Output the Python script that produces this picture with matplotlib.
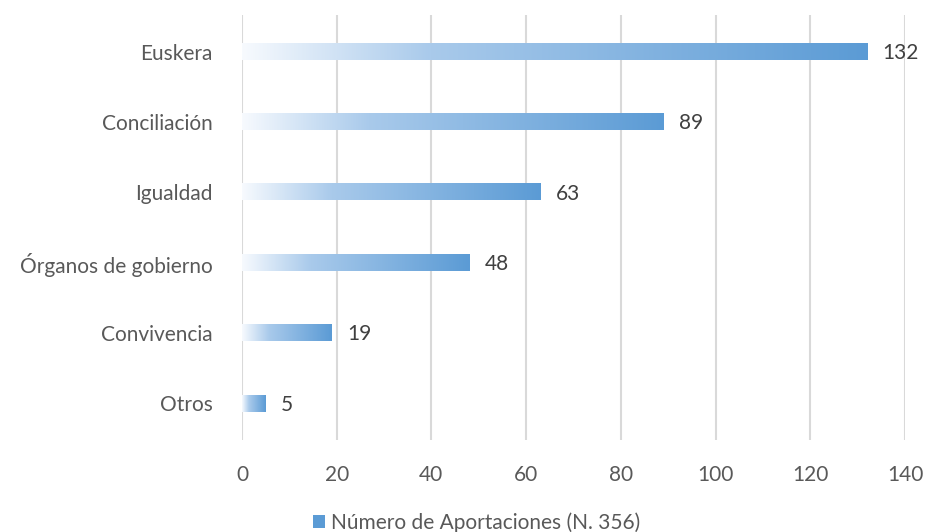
import numpy as np
import matplotlib.pyplot as plt
from matplotlib.colors import LinearSegmentedColormap
from matplotlib.patches import Patch

categorias = ['Otros', 'Convivencia', 'Órganos de gobierno', 'Igualdad', 'Conciliación', 'Euskera']
aportaciones = [5, 19, 48, 63, 89, 132]
ticks_x = [0, 20, 40, 60, 80, 100, 120, 140]
leyenda = 'Número de Aportaciones (N. 356)'

plt.rcParams['font.family'] = ['Lato', 'DejaVu Sans']

# degradado tipo Excel: casi blanco -> azul
cmap = LinearSegmentedColormap.from_list(
    'grad', [(0, '#F7FAFE'), (0.3, '#A9CAEB'), (1, '#5B9BD5')])

fig = plt.figure(figsize=(9.26, 5.32), dpi=100)
ax = fig.add_axes([0.2613, 0.1729, 0.7160, 0.7989])

h = 0.23
grad = np.linspace(0, 1, 256).reshape(1, -1)
for i, v in enumerate(aportaciones):
    ax.imshow(grad, cmap=cmap, aspect='auto', interpolation='bilinear',
              extent=[0, v, i - h / 2, i + h / 2], zorder=3)
    ax.text(v + 3.3, i - 0.02, str(v), va='center', ha='left', fontsize=15, color='#404040')

ax.set_xlim(0, 140)
ax.set_ylim(-0.52, 5.52)
ax.set_xticks(ticks_x)
ax.set_yticks(range(len(categorias)))
ax.set_yticklabels(categorias)
ax.tick_params(length=0, labelsize=15, labelcolor='#595959')
ax.tick_params(axis='x', pad=18)
ax.tick_params(axis='y', pad=21)
ax.grid(axis='x', color='#D9D9D9', linewidth=1.5, zorder=0)
ax.set_axisbelow(True)
for s in ax.spines.values():
    s.set_visible(False)

fig.legend(handles=[Patch(facecolor='#5B9BD5', edgecolor='none', label=leyenda)],
           loc='center', bbox_to_anchor=(0.515, 0.018), frameon=False,
           fontsize=15, labelcolor='#595959', handlelength=0.55, handleheight=0.55,
           handletextpad=0.3)

fig.savefig('out.png', dpi=100)
